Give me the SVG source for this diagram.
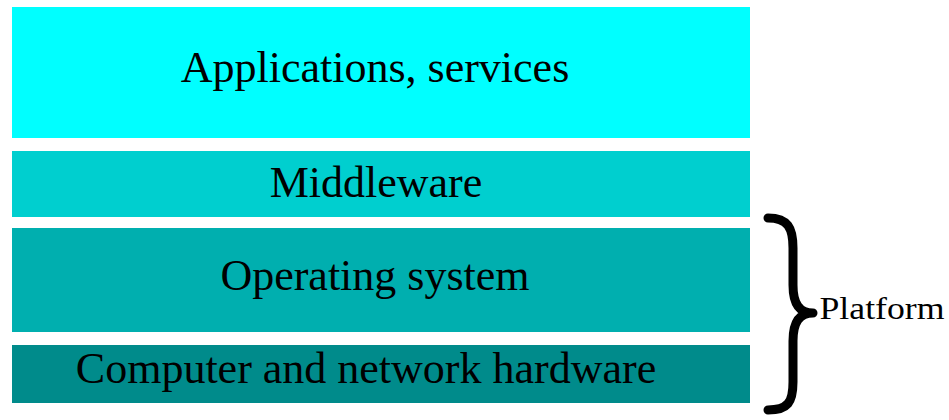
<svg xmlns="http://www.w3.org/2000/svg" width="949" height="420" viewBox="0 0 949 420">
<style>
text{font-family:"Liberation Serif","Times New Roman",serif;fill:#000;text-anchor:middle}
.big{font-size:44px}
</style>
<rect width="949" height="420" fill="#fff"/>
<g id="applications"><rect x="12" y="7" width="738" height="131" fill="#00FFFF"/><text class="big" x="375" y="82">Applications, services</text></g>
<g id="middleware"><rect x="12" y="151" width="738" height="66" fill="#00CFCF"/><text class="big" x="376" y="197">Middleware</text></g>
<g id="os"><rect x="12" y="228" width="738" height="104" fill="#00AFAF"/><text class="big" x="375" y="290">Operating system</text></g>
<g id="hardware"><rect x="12" y="345" width="738" height="58" fill="#008B8B"/><text class="big" x="366" y="383">Computer and network hardware</text></g>
<g id="platform">
<path d="M768 218 C788 218 793 228 793 248 L793 285 C793 303 799 313 813 313 C799 313 793 323 793 341 L793 382 C793 402 788 410 768 410" fill="none" stroke="#000" stroke-width="9" stroke-linecap="round" stroke-linejoin="round"/>
<text x="882" y="319" style="font-size:32px" textLength="125" lengthAdjust="spacingAndGlyphs">Platform</text>
</g>
</svg>
